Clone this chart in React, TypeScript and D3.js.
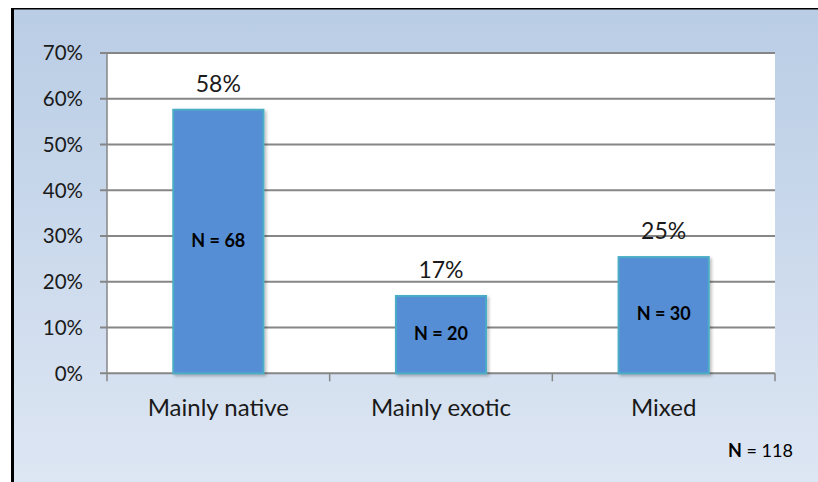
import React from "react";
import * as d3 from "d3";

const categories = ["Mainly native", "Mainly exotic", "Mixed"];
const shares = [0.576, 0.169, 0.254];
const valueLabels = ["58%", "17%", "25%"];
const countLabels = ["N = 68", "N = 20", "N = 30"];
const yTicks = [0, 0.1, 0.2, 0.3, 0.4, 0.5, 0.6, 0.7];
const totalLabel = ["N", " = 118"];

const W = 818;
const H = 482;
const plot = { left: 107, right: 775, top: 53, bottom: 373.3 };
const FONT = "Lato, 'Open Sans', sans-serif";

export default function App() {
  const x = d3
    .scaleBand<string>()
    .domain(categories)
    .range([plot.left, plot.right])
    .paddingInner(0)
    .paddingOuter(0);
  const y = d3.scaleLinear().domain([0, 0.7]).range([plot.bottom, plot.top]);
  const barW = x.bandwidth() * 0.405;
  const fmt = d3.format(".0%");

  return (
    <svg
      width={W}
      height={H}
      style={{ position: "absolute", left: 0, top: 0, display: "block" }}
      fontFamily={FONT}
    >
      <defs>
        <linearGradient id="bg" x1="0" y1="0" x2="0" y2="1">
          <stop offset="0" stopColor="#b9cde5" />
          <stop offset="1" stopColor="#dde6f3" />
        </linearGradient>
        <filter id="shadow" x="-10%" y="-10%" width="130%" height="130%">
          <feDropShadow dx="2" dy="2" stdDeviation="1.5" floodColor="#000" floodOpacity="0.25" />
        </filter>
      </defs>
      <rect x={0} y={0} width={W} height={H} fill="#ffffff" />
      <rect x={12} y={9} width={W - 12} height={H - 9} fill="url(#bg)" />
      <line x1={12.5} x2={12.5} y1={8} y2={H} stroke="#000" strokeWidth={3} />
      <line x1={11} x2={W} y1={8.75} y2={8.75} stroke="#000" strokeWidth={1.5} />

      <rect
        x={plot.left}
        y={plot.top}
        width={plot.right - plot.left}
        height={plot.bottom - plot.top}
        fill="#ffffff"
      />

      {yTicks.map((t) => (
        <g key={t}>
          <line
            x1={plot.left - 7}
            x2={plot.right}
            y1={y(t)}
            y2={y(t)}
            stroke="#868686"
            strokeWidth={2}
          />
          <text
            x={83}
            y={y(t)}
            dy="0.36em"
            textAnchor="end"
            fontSize={20.5}
            fill="#1a1a1a"
          >
            {fmt(t)}
          </text>
        </g>
      ))}
      <line
        x1={plot.left}
        x2={plot.left}
        y1={plot.top}
        y2={plot.bottom + 8}
        stroke="#868686"
        strokeWidth={1.5}
      />
      {categories.slice(1).map((c) => (
        <line
          key={c}
          x1={x(c)!}
          x2={x(c)!}
          y1={plot.bottom}
          y2={plot.bottom + 8}
          stroke="#868686"
          strokeWidth={1.5}
        />
      ))}
      <line
        x1={plot.right}
        x2={plot.right}
        y1={plot.bottom}
        y2={plot.bottom + 8}
        stroke="#868686"
        strokeWidth={1.5}
      />

      {categories.map((c, i) => {
        const cx = x(c)! + x.bandwidth() / 2;
        const top = y(shares[i]);
        return (
          <g key={c}>
            <rect
              x={cx - barW / 2}
              y={top}
              width={barW}
              height={plot.bottom - top}
              fill="#558ed5"
              stroke="#4bacc6"
              strokeWidth={2}
              filter="url(#shadow)"
            />
            <text x={cx} y={top - 18} textAnchor="middle" fontSize={23} fill="#1a1a1a">
              {valueLabels[i]}
            </text>
            <text
              x={cx}
              y={(top + plot.bottom) / 2 + 5}
              textAnchor="middle"
              fontSize={18}
              fontWeight="bold"
              fill="#000"
            >
              {countLabels[i]}
            </text>
            <text x={cx} y={416} textAnchor="middle" fontSize={24} fill="#1a1a1a">
              {c}
            </text>
          </g>
        );
      })}

      <text x={728} y={457} fontSize={18} fill="#000">
        <tspan fontWeight="bold">{totalLabel[0]}</tspan>
        <tspan>{totalLabel[1]}</tspan>
      </text>
    </svg>
  );
}
